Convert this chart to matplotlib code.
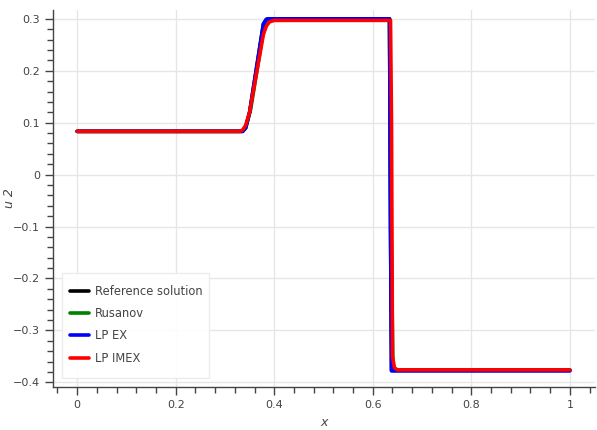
import matplotlib
matplotlib.use("Agg")
import matplotlib.pyplot as plt
from matplotlib.ticker import MultipleLocator
from matplotlib.patches import Rectangle

# Data
ref_x = [0.0, 0.336, 0.342, 0.350, 0.378, 0.384, 0.388, 0.634, 0.636, 0.638, 1.0]
ref_y = [0.0833, 0.0833, 0.090, 0.120, 0.290, 0.299, 0.300, 0.300, -0.10, -0.377, -0.377]

rus_x = [0.0, 0.334, 0.342, 0.352, 0.380, 0.388, 0.394, 0.634, 0.637, 0.641, 1.0]
rus_y = [0.0833, 0.0833, 0.090, 0.125, 0.288, 0.297, 0.298, 0.298, -0.10, -0.376, -0.376]

ex_x = [0.0, 0.336, 0.342, 0.350, 0.378, 0.384, 0.388, 0.634, 0.636, 0.638, 1.0]
ex_y = [0.0833, 0.0833, 0.090, 0.120, 0.290, 0.299, 0.300, 0.300, -0.10, -0.378, -0.378]

imex_x = [0.0, 0.330, 0.336, 0.342, 0.350, 0.378, 0.384, 0.390, 0.400, 0.636, 0.638, 0.640, 0.644, 0.650, 1.0]
imex_y = [0.0833, 0.0833, 0.086, 0.095, 0.120, 0.270, 0.286, 0.294, 0.297, 0.297, 0.10, -0.35, -0.372, -0.376, -0.376]

labels = ["Reference solution", "Rusanov", "LP EX", "LP IMEX"]
colors = ["black", "green", "blue", "red"]

W, H = 597, 430
fig = plt.figure(figsize=(W / 100, H / 100), dpi=100)
ax = fig.add_axes([53/W, 43/H, 542/W, 377/H])

series = [(ref_x, ref_y), (rus_x, rus_y), (ex_x, ex_y), (imex_x, imex_y)]
for (xs, ys), lab, c in zip(series, labels, colors):
    ax.plot(xs, ys, color=c, lw=2.6, label=lab, solid_joinstyle="round", solid_capstyle="round")

ax.set_xlim(-0.049, 1.051)
ax.set_ylim(-0.409, 0.317)
ax.xaxis.set_major_locator(MultipleLocator(0.2))
ax.xaxis.set_minor_locator(MultipleLocator(0.04))
ax.yaxis.set_major_locator(MultipleLocator(0.1))
ax.yaxis.set_minor_locator(MultipleLocator(0.02))
ax.xaxis.set_major_formatter(plt.FuncFormatter(lambda v, p: "0" if abs(v) < 1e-9 else ("1" if abs(v-1) < 1e-9 else f"{v:.1f}".replace("-", "\u2212"))))
ax.yaxis.set_major_formatter(plt.FuncFormatter(lambda v, p: "0" if abs(v) < 1e-9 else f"{v:.1f}".replace("-", "\u2212")))

for s in ["top", "right"]:
    ax.spines[s].set_visible(False)
for s in ["left", "bottom"]:
    ax.spines[s].set_color("#444444")
    ax.spines[s].set_linewidth(1.0)
ax.tick_params(which="major", direction="out", length=6, width=1, color="#444444", labelcolor="#444444", labelsize=8)
ax.tick_params(which="minor", direction="out", length=4, width=1, color="#444444")
ax.grid(True, which="major", color="#e6e6e6", lw=1)
ax.set_axisbelow(True)

ax.set_xlabel("x", fontsize=9, style="italic", color="#444444", labelpad=4)
ax.set_ylabel("u 2", fontsize=9, style="italic", color="#444444")
ax.yaxis.set_label_coords(-0.068, 0.5)

# legend box (Bokeh-style padding)
box = Rectangle((62/W, (H-378)/H), 147/W, 105/H, transform=fig.transFigure,
                facecolor="white", alpha=0.95, edgecolor="#ebebeb", lw=1, zorder=4.5)
ax.add_patch(box)
box.set_clip_on(False)

leg = ax.legend(loc="upper left", bbox_to_anchor=(70/W, (H-285)/H), bbox_transform=fig.transFigure,
                fontsize=8.3, frameon=False, handlelength=1.65, labelspacing=0.8,
                borderpad=0, borderaxespad=0, handletextpad=0.55)
for t in leg.get_texts():
    t.set_color("#444444")

fig.savefig("out.png", dpi=100)
